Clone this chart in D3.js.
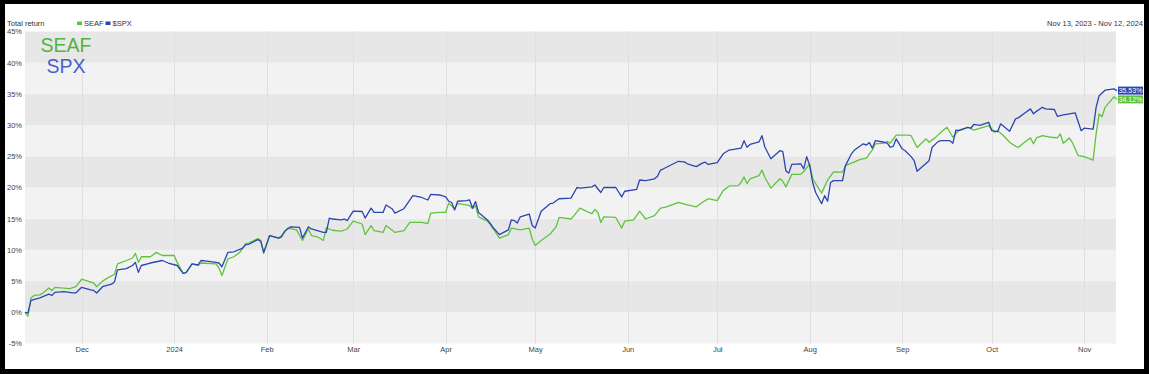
<!DOCTYPE html>
<html><head><meta charset="utf-8">
<script src="https://cdn.jsdelivr.net/npm/d3@7"></script>
<style>
html,body{margin:0;padding:0;background:#000;}
svg{display:block;}
text{font-family:"Liberation Sans",Arial,sans-serif;}
</style></head>
<body>
<svg id="chart" width="1149" height="374"></svg>
<script>
const seafDates = ["2023-11-12","2023-11-13","2023-11-14","2023-11-15","2023-11-17","2023-11-18","2023-11-20","2023-11-21","2023-11-22","2023-11-24","2023-11-27","2023-11-29","2023-12-01","2023-12-04","2023-12-05","2023-12-06","2023-12-08","2023-12-10","2023-12-12","2023-12-13","2023-12-16","2023-12-18","2023-12-19","2023-12-20","2023-12-21","2023-12-24","2023-12-26","2023-12-28","2024-01-01","2024-01-02","2024-01-04","2024-01-05","2024-01-07","2024-01-09","2024-01-10","2024-01-15","2024-01-16","2024-01-17","2024-01-19","2024-01-21","2024-01-23","2024-01-25","2024-01-26","2024-01-29","2024-01-30","2024-01-31","2024-02-02","2024-02-05","2024-02-06","2024-02-07","2024-02-08","2024-02-11","2024-02-13","2024-02-15","2024-02-16","2024-02-18","2024-02-20","2024-02-21","2024-02-23","2024-02-26","2024-02-28","2024-03-01","2024-03-04","2024-03-05","2024-03-07","2024-03-08","2024-03-11","2024-03-12","2024-03-14","2024-03-15","2024-03-18","2024-03-20","2024-03-24","2024-03-26","2024-03-27","2024-03-30","2024-04-01","2024-04-02","2024-04-04","2024-04-05","2024-04-08","2024-04-09","2024-04-10","2024-04-11","2024-04-12","2024-04-15","2024-04-17","2024-04-19","2024-04-22","2024-04-23","2024-04-26","2024-04-29","2024-04-30","2024-05-01","2024-05-03","2024-05-06","2024-05-08","2024-05-09","2024-05-13","2024-05-14","2024-05-16","2024-05-19","2024-05-20","2024-05-21","2024-05-22","2024-05-23","2024-05-24","2024-05-28","2024-05-30","2024-05-31","2024-06-03","2024-06-05","2024-06-07","2024-06-10","2024-06-12","2024-06-14","2024-06-18","2024-06-21","2024-06-24","2024-06-26","2024-06-27","2024-06-28","2024-07-01","2024-07-03","2024-07-05","2024-07-08","2024-07-09","2024-07-10","2024-07-11","2024-07-12","2024-07-15","2024-07-16","2024-07-17","2024-07-19","2024-07-22","2024-07-23","2024-07-24","2024-07-26","2024-07-29","2024-07-30","2024-08-01","2024-08-02","2024-08-05","2024-08-07","2024-08-09","2024-08-12","2024-08-13","2024-08-15","2024-08-18","2024-08-20","2024-08-21","2024-08-22","2024-08-23","2024-08-26","2024-08-27","2024-08-28","2024-08-30","2024-09-03","2024-09-04","2024-09-06","2024-09-09","2024-09-10","2024-09-12","2024-09-14","2024-09-16","2024-09-18","2024-09-20","2024-09-23","2024-09-25","2024-09-30","2024-10-02","2024-10-03","2024-10-05","2024-10-07","2024-10-09","2024-10-10","2024-10-12","2024-10-14","2024-10-15","2024-10-16","2024-10-18","2024-10-21","2024-10-23","2024-10-24","2024-10-25","2024-10-27","2024-10-28","2024-10-30","2024-11-01","2024-11-04","2024-11-05","2024-11-06","2024-11-07","2024-11-08","2024-11-11","2024-11-12"];
const seafValues = [0,-0.6,2.3,2.7,2.8,3.1,3.9,3.5,4.0,3.9,3.8,4.1,5.3,4.85,4.7,4.1,5.0,5.6,6.1,7.75,8.3,8.7,9.45,8.0,8.9,8.9,9.6,9.1,9.1,8.0,6.25,6.4,7.75,7.5,7.9,7.75,7.1,5.9,8.55,8.9,9.6,11.05,11.1,11.8,11.55,9.45,12.3,11.9,12.3,12.8,13.5,13.2,11.5,13.4,12.3,12.1,11.5,13.55,13.15,13.0,13.35,14.6,14.15,12.45,13.9,13.1,12.8,13.9,13.2,12.8,13.1,14.4,14.4,14.2,15.9,16.0,16.0,17.5,16.6,17.4,17.2,17.1,16.6,17.1,15.3,14.6,13.35,11.9,12.4,13.5,13.2,13.5,11.75,10.7,11.5,12.55,13.7,15.2,14.95,15.5,16.7,16.0,15.8,16.5,16.0,14.4,15.3,15.2,13.5,14.6,14.8,16.2,14.95,15.5,16.7,16.9,17.6,17.2,16.9,17.6,17.9,18.2,17.9,19.5,20.25,20.3,20.8,21.7,20.6,21.4,21.9,22.8,21.6,19.9,21.4,21.0,20.1,22.1,22.1,22.55,23.8,21.4,19.1,21.2,22.5,22.45,23.5,23.9,24.5,24.7,25.4,26.0,27.0,27.1,27.4,27.1,28.4,28.4,28.3,26.4,27.8,27.25,27.95,28.85,29.65,28.05,29.2,29.65,29.2,29.9,28.85,29.1,28.3,27.25,26.6,26.45,27.25,27.95,27.0,27.95,28.3,28.05,27.95,28.6,27.1,27.95,27.25,25.1,24.95,24.4,28.6,31.8,31.35,32.85,34.55,34.12];

const spxDates = ["2023-11-12","2023-11-13","2023-11-14","2023-11-17","2023-11-20","2023-11-21","2023-11-22","2023-11-25","2023-11-28","2023-11-29","2023-12-01","2023-12-04","2023-12-05","2023-12-06","2023-12-08","2023-12-11","2023-12-12","2023-12-13","2023-12-16","2023-12-18","2023-12-19","2023-12-20","2023-12-21","2023-12-24","2023-12-28","2023-12-30","2024-01-02","2024-01-04","2024-01-05","2024-01-07","2024-01-09","2024-01-10","2024-01-12","2024-01-15","2024-01-16","2024-01-17","2024-01-19","2024-01-21","2024-01-24","2024-01-25","2024-01-26","2024-01-29","2024-01-30","2024-01-31","2024-02-02","2024-02-05","2024-02-06","2024-02-07","2024-02-09","2024-02-12","2024-02-13","2024-02-15","2024-02-16","2024-02-20","2024-02-21","2024-02-22","2024-02-23","2024-02-26","2024-02-27","2024-02-28","2024-03-01","2024-03-04","2024-03-05","2024-03-07","2024-03-08","2024-03-11","2024-03-12","2024-03-14","2024-03-15","2024-03-18","2024-03-21","2024-03-24","2024-03-26","2024-03-27","2024-03-30","2024-04-01","2024-04-02","2024-04-03","2024-04-04","2024-04-05","2024-04-08","2024-04-09","2024-04-10","2024-04-11","2024-04-12","2024-04-15","2024-04-16","2024-04-17","2024-04-19","2024-04-22","2024-04-23","2024-04-24","2024-04-25","2024-04-26","2024-04-29","2024-04-30","2024-05-01","2024-05-03","2024-05-06","2024-05-07","2024-05-09","2024-05-13","2024-05-15","2024-05-16","2024-05-20","2024-05-21","2024-05-23","2024-05-24","2024-05-28","2024-05-30","2024-05-31","2024-06-04","2024-06-05","2024-06-07","2024-06-10","2024-06-11","2024-06-12","2024-06-13","2024-06-18","2024-06-20","2024-06-21","2024-06-24","2024-06-26","2024-06-27","2024-06-28","2024-07-01","2024-07-03","2024-07-05","2024-07-09","2024-07-10","2024-07-11","2024-07-12","2024-07-15","2024-07-16","2024-07-17","2024-07-19","2024-07-22","2024-07-23","2024-07-24","2024-07-25","2024-07-26","2024-07-29","2024-07-30","2024-07-31","2024-08-01","2024-08-02","2024-08-03","2024-08-05","2024-08-06","2024-08-07","2024-08-08","2024-08-09","2024-08-12","2024-08-13","2024-08-15","2024-08-16","2024-08-19","2024-08-20","2024-08-21","2024-08-22","2024-08-23","2024-08-26","2024-08-27","2024-08-28","2024-08-29","2024-08-30","2024-09-01","2024-09-02","2024-09-04","2024-09-05","2024-09-06","2024-09-10","2024-09-11","2024-09-13","2024-09-14","2024-09-17","2024-09-18","2024-09-19","2024-09-20","2024-09-23","2024-09-24","2024-09-25","2024-09-27","2024-09-30","2024-10-01","2024-10-03","2024-10-04","2024-10-07","2024-10-09","2024-10-10","2024-10-12","2024-10-14","2024-10-15","2024-10-16","2024-10-18","2024-10-19","2024-10-22","2024-10-23","2024-10-25","2024-10-27","2024-10-29","2024-10-31","2024-11-01","2024-11-04","2024-11-05","2024-11-06","2024-11-08","2024-11-11","2024-11-12"];
const spxValues = [0,-0.1,1.9,2.3,2.9,2.7,3.2,3.3,3.1,3.1,4.0,3.6,3.5,3.1,4.1,4.5,4.9,6.8,7.0,7.5,8.0,6.4,7.5,7.9,8.3,7.9,7.5,6.25,6.35,7.75,7.6,8.3,8.2,8.0,7.9,7.3,9.6,9.7,10.3,10.85,10.9,11.65,11.4,9.6,12.3,11.9,12.1,13.0,13.7,13.6,11.9,13.7,13.35,12.8,12.8,15.1,14.95,14.8,14.95,14.7,16.2,16.15,15.1,16.7,16.0,16.0,17.2,16.6,15.9,16.6,18.7,18.4,18.0,18.9,18.8,18.5,17.8,17.6,16.4,17.8,17.9,18.0,16.7,17.75,16.0,14.8,14.2,13.5,12.45,13.2,14.8,14.7,14.3,15.3,15.75,13.9,13.5,16.2,17.4,17.5,18.2,18.3,20.0,19.9,20.1,20.4,19.2,20.0,20.0,18.5,19.4,19.7,21.2,21.1,21.4,21.8,22.8,23.0,24.2,24.1,23.8,23.35,23.9,24.05,23.7,24.0,25.4,26.0,26.3,27.5,26.45,26.9,27.3,28.3,26.45,24.6,25.9,25.75,22.7,22.3,23.7,23.8,23.0,24.95,23.5,20.8,19.2,17.4,18.7,17.8,20.8,21.1,21.1,23.5,25.4,26.0,27.0,26.8,27.2,26.3,27.5,27.25,27.1,26.45,26.6,27.8,26.2,25.9,24.95,24.3,22.6,24.3,26.4,27.35,27.5,27.5,27.1,29.2,29.1,29.65,29.5,30.1,29.95,30.45,29.1,28.95,30.2,29.0,31.0,31.2,31.9,32.6,31.8,32.2,32.85,32.6,32.5,31.4,31.65,31.8,31.95,29.1,29.5,29.35,32.85,34.7,35.6,35.8,35.53];

const yTicks = [-5,0,5,10,15,20,25,30,35,40,45];
const xTickDates = ["2023-12-01","2024-01-01","2024-02-01","2024-03-01","2024-04-01","2024-05-01","2024-06-01","2024-07-01","2024-08-01","2024-09-01","2024-10-01","2024-11-01"];
const xTickLabels = ["Dec","2024","Feb","Mar","Apr","May","Jun","Jul","Aug","Sep","Oct","Nov"];
const domainDates = ["2023-11-12","2024-11-12"];
const seriesNames = ["SEAF","$SPX"];
const bigLabels = ["SEAF","SPX"];
const endLabels = ["35.53%","34.12%"];
const headerTitle = "Total return";
const rangeText = "Nov 13, 2023 - Nov 12, 2024";

const parse = d3.timeParse("%Y-%m-%d");
const C = {seaf:"#5ec43f", spx:"#2c45b0", seafText:"#52b340", spxText:"#4a60cc", dark:"#e7e7e7", light:"#f2f2f2", grid:"#dfdfdf", txt:"#444"};

const svg = d3.select("#chart");
svg.append("rect").attr("x",5).attr("y",4).attr("width",1139).attr("height",365).attr("fill","#fff");

const L=25, R=1117, T=31.5, B=343.5;
const x = d3.scaleTime().domain(domainDates.map(parse)).range([L,R]);
const y = d3.scaleLinear().domain([-5,45]).range([B,T]);

// bands
const bands = d3.range(yTicks.length-1).map(i=>[yTicks[i],yTicks[i+1]]);
svg.append("g").selectAll("rect").data(bands).join("rect")
  .attr("x",L).attr("width",1116-L)
  .attr("y",d=>y(d[1])).attr("height",d=>y(d[0])-y(d[1]))
  .attr("fill",d=>(d[0]%10===0)?C.dark:C.light);

// vertical grid
const xt = xTickDates.map(parse);
svg.append("g").selectAll("line").data(xt).join("line")
  .attr("x1",d=>Math.round(x(d))+0.5).attr("x2",d=>Math.round(x(d))+0.5)
  .attr("y1",T).attr("y2",B).attr("stroke",C.grid).attr("stroke-width",1);

// axes
const xAxis = d3.axisBottom(x).tickValues(xt).tickFormat((d,i)=>xTickLabels[i]).tickSize(0).tickPadding(3);
const gx = svg.append("g").attr("transform",`translate(0,${B})`).call(xAxis);
gx.select(".domain").remove();
gx.selectAll("text").attr("font-size","7.5px").attr("fill",C.txt).attr("font-family","Liberation Sans, Arial, sans-serif");

const yAxis = d3.axisLeft(y).tickValues(yTicks).tickFormat(d=>d+"%").tickSize(0).tickPadding(3);
const gy = svg.append("g").attr("transform",`translate(${L},0)`).call(yAxis);
gy.select(".domain").remove();
gy.selectAll("text").attr("font-size","7.5px").attr("fill",C.txt).attr("font-family","Liberation Sans, Arial, sans-serif");

// lines
const line = d3.line().x(d=>x(d[0])).y(d=>y(d[1]));
const seaf = seafDates.map((d,i)=>[parse(d),seafValues[i]]);
const spx = spxDates.map((d,i)=>[parse(d),spxValues[i]]);
svg.append("path").datum(seaf).attr("d",line).attr("fill","none").attr("stroke",C.seaf).attr("stroke-width",1.3).attr("stroke-linejoin","round");
svg.append("path").datum(spx).attr("d",line).attr("fill","none").attr("stroke",C.spx).attr("stroke-width",1.3).attr("stroke-linejoin","round");

// header
svg.append("text").attr("x",7).attr("y",25.5).attr("font-size","7.5px").attr("fill","#333").text(headerTitle);
const leg = [{n:seriesNames[0],c:C.seaf,x:77},{n:seriesNames[1],c:C.spx,x:105.5}];
leg.forEach(l=>{
  svg.append("rect").attr("x",l.x).attr("y",21.5).attr("width",5).attr("height",3.5).attr("fill",l.c);
  svg.append("text").attr("x",l.x+7).attr("y",25.5).attr("font-size","7.5px").attr("fill","#333").text(l.n);
});
svg.append("text").attr("x",1143).attr("y",25.5).attr("text-anchor","end").attr("font-size","7.5px").attr("fill","#333").text(rangeText);

// big labels
svg.append("text").attr("x",40.5).attr("y",51.5).attr("font-size","19.5px").attr("fill",C.seafText).text(bigLabels[0]);
svg.append("text").attr("x",46.5).attr("y",72.5).attr("font-size","19.5px").attr("fill",C.spxText).text(bigLabels[1]);

// end labels
const ends = [{v:spxValues[spxValues.length-1],t:endLabels[0],c:C.spx},{v:seafValues[seafValues.length-1],t:endLabels[1],c:C.seaf}];
ends.forEach(e=>{
  const cy = y(e.v);
  svg.append("rect").attr("x",1118).attr("y",cy-4).attr("width",25).attr("height",8).attr("fill",e.c);
  svg.append("text").attr("x",1130.5).attr("y",cy+2.6).attr("text-anchor","middle").attr("font-size","7px").attr("fill","#fff").text(e.t);
});
</script>
</body></html>
